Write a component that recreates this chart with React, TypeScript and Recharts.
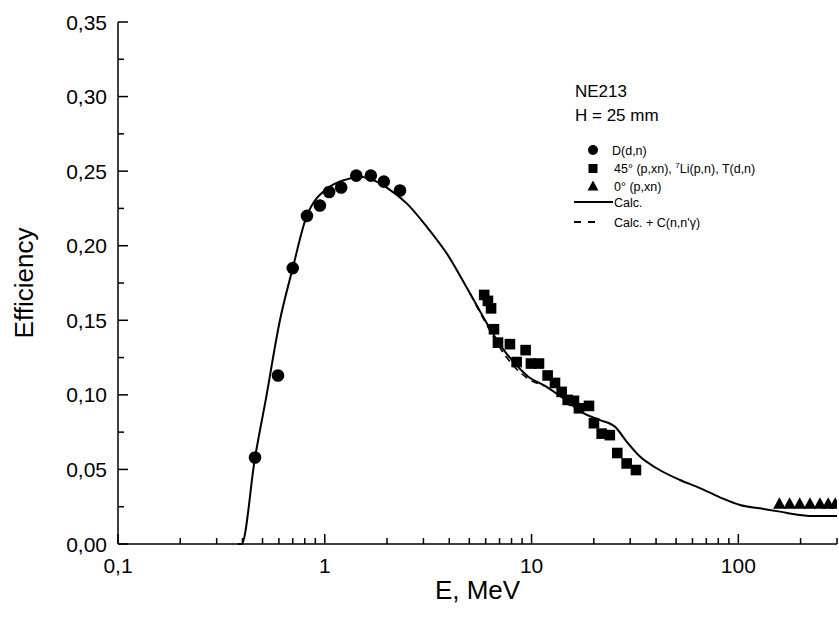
import React from 'react';
import {
  ComposedChart,
  Line,
  Scatter,
  XAxis,
  YAxis,
  Label,
} from 'recharts';

// NE213 detector efficiency vs neutron energy (log x axis)

const W = 839;
const H = 621;
const PLOT_LEFT = 118;
const PLOT_BOTTOM = 544;
const FONT = '"Liberation Sans", Arial, sans-serif';

// D(d,n) points
const ddE = [0.46, 0.594, 0.7, 0.82, 0.947, 1.05, 1.2, 1.42, 1.67, 1.93, 2.31];
const ddEff = [0.058, 0.113, 0.185, 0.22, 0.227, 0.236, 0.239, 0.247, 0.247, 0.243, 0.237];

// 45° (p,xn), 7Li(p,n), T(d,n)
const pxnE = [5.9, 6.15, 6.37, 6.58, 6.88, 7.86, 8.47, 9.36, 9.93, 10.86, 11.96, 12.98,
  13.98, 14.95, 16.03, 16.95, 18.95, 20.03, 21.83, 23.9, 25.97, 28.83, 31.97];
const pxnEff = [0.167, 0.163, 0.158, 0.144, 0.135, 0.134, 0.122, 0.13, 0.121, 0.121, 0.113, 0.108,
  0.102, 0.0966, 0.096, 0.091, 0.0926, 0.081, 0.074, 0.073, 0.061, 0.054, 0.0496];

// 0° (p,xn)
const zeroE = [158, 177, 198, 222, 248, 272, 294];
const zeroEff = [0.027, 0.027, 0.027, 0.027, 0.027, 0.027, 0.027];

// Calc.
const calcE = [0.38, 0.396, 0.46, 0.518, 0.607, 0.7, 0.816, 1.06, 1.276, 1.48, 1.716, 1.992,
  2.49, 3.11, 3.886, 5.04, 6.65, 7.44, 8.31, 9.64, 11.61, 14.23, 17.78, 21.42, 25.31, 28.84,
  33.43, 40.26, 52.2, 65.2, 81.5, 101.8, 127.2, 158.9, 198.6, 221.8, 300];
const calcEff = [0, 0, 0.058, 0.0966, 0.15, 0.185, 0.2195, 0.2396, 0.2445, 0.2463, 0.244, 0.239,
  0.2284, 0.2128, 0.1949, 0.168, 0.139, 0.129, 0.121, 0.1122, 0.106, 0.0977, 0.0877, 0.0831,
  0.0787, 0.0686, 0.0586, 0.0508, 0.0429, 0.0375, 0.0313, 0.0262, 0.0239, 0.0217, 0.0194,
  0.0188, 0.0188];

// Calc. + C(n,n'γ) — only visible apart from Calc. around 5-12 MeV
const calcCE = [5.04, 5.8, 6.6, 7.4, 8.3, 9.6, 11.6];
const calcCEff = [0.168, 0.152, 0.138, 0.127, 0.1185, 0.111, 0.106];

const xTicks = [0.1, 0.2, 0.3, 0.4, 0.5, 0.6, 0.7, 0.8, 0.9, 1, 2, 3, 4, 5, 6, 7, 8, 9, 10,
  20, 30, 40, 50, 60, 70, 80, 90, 100, 200, 300];
const xMajor = [0.1, 1, 10, 100];
const yTicks = [0, 0.025, 0.05, 0.075, 0.1, 0.125, 0.15, 0.175, 0.2, 0.225, 0.25, 0.275, 0.3, 0.325, 0.35];

const zip = (xs: number[], ys: number[]) => xs.map((x, i) => ({ x, y: ys[i] }));

const ddData = zip(ddE, ddEff);
const pxnData = zip(pxnE, pxnEff);
const zeroData = zip(zeroE, zeroEff);
const calcData = zip(calcE, calcEff);
const calcCData = zip(calcCE, calcCEff);

const fmtY = (v: number) => v.toFixed(2).replace('.', ',');
const fmtX = (v: number) => String(v).replace('.', ',');

const YTick = (props: any) => {
  const { y, payload } = props;
  const v = payload.value as number;
  const major = Math.round(v * 1000) % 50 === 0;
  return (
    <g>
      <line x1={PLOT_LEFT} x2={PLOT_LEFT + (major ? 10 : 6)} y1={y} y2={y} stroke="#000" strokeWidth={1.5} />
      {major && (
        <text x={PLOT_LEFT - 11} y={y} dy="0.36em" textAnchor="end" fontSize={21} fontFamily={FONT} fill="#000">
          {fmtY(v)}
        </text>
      )}
    </g>
  );
};

const XTick = (props: any) => {
  const { x, payload } = props;
  const v = payload.value as number;
  const major = xMajor.includes(v);
  return (
    <g>
      <line x1={x} x2={x} y1={PLOT_BOTTOM} y2={PLOT_BOTTOM - (major ? 10 : 6)} stroke="#000" strokeWidth={1.5} />
      {major && (
        <text x={x} y={PLOT_BOTTOM + 29} textAnchor="middle" fontSize={21} fontFamily={FONT} fill="#000">
          {fmtX(v)}
        </text>
      )}
    </g>
  );
};

const Dot = (p: any) => <circle cx={p.cx} cy={p.cy} r={6.3} fill="#000" />;
const Sq = (p: any) => <rect x={p.cx - 5.3} y={p.cy - 5.3} width={10.6} height={10.6} fill="#000" />;
const Tri = (p: any) => (
  <path d={`M${p.cx},${p.cy - 6.5} L${p.cx + 6.3},${p.cy + 5} L${p.cx - 6.3},${p.cy + 5} Z`} fill="#000" />
);

function LegendOverlay() {
  const t = { fontFamily: FONT, fill: '#000' };
  return (
    <svg width={W} height={H} style={{ position: 'absolute', left: 0, top: 0, pointerEvents: 'none' }}>
      <text x={575} y={97} fontSize={17} {...t}>NE213</text>
      <text x={575} y={121} fontSize={17} {...t}>H = 25 mm</text>
      <circle cx={593} cy={150} r={5} fill="#000" />
      <text x={612} y={154.5} fontSize={12.5} {...t}>D(d,n)</text>
      <rect x={588.5} y={164} width={9} height={9} fill="#000" />
      <text x={614} y={172.5} fontSize={12.5} {...t}>
        45° (p,xn), <tspan fontSize={8} dy={-5}>7</tspan><tspan dy={5}>Li(p,n), T(d,n)</tspan>
      </text>
      <path d="M593,180.5 L598.5,190.5 L587.5,190.5 Z" fill="#000" />
      <text x={614} y={190.5} fontSize={12.5} {...t}>0° (p,xn)</text>
      <line x1={574} x2={613} y1={202} y2={202} stroke="#000" strokeWidth={1.8} />
      <text x={614} y={206.5} fontSize={12.5} {...t}>Calc.</text>
      <line x1={574} x2={596} y1={222} y2={222} stroke="#000" strokeWidth={1.8} strokeDasharray="7 7" />
      <text x={614} y={226.5} fontSize={12.5} {...t}>Calc. + C(n,n'γ)</text>
    </svg>
  );
}

export default function App() {
  return (
    <div style={{ position: 'fixed', left: 0, top: 0, width: W, height: H, background: '#fff' }}>
      <ComposedChart width={W} height={H} margin={{ top: 22, right: 2, left: 0, bottom: 0 }}>
        <XAxis
          type="number"
          dataKey="x"
          scale="log"
          domain={[0.1, 300]}
          allowDataOverflow
          ticks={xTicks}
          interval={0}
          tick={<XTick />}
          tickLine={false}
          axisLine={{ stroke: '#000', strokeWidth: 1.5 }}
          height={77}
        >
          <Label
            value="E, MeV"
            position="insideBottom"
            offset={22}
            style={{ fontSize: 26, fontFamily: FONT, fill: '#000' }}
          />
        </XAxis>
        <YAxis
          type="number"
          dataKey="y"
          domain={[0, 0.35]}
          ticks={yTicks}
          interval={0}
          tick={<YTick />}
          tickLine={false}
          axisLine={{ stroke: '#000', strokeWidth: 1.5 }}
          width={118}
        >
          <Label
            value="Efficiency"
            angle={-90}
            position="insideLeft"
            offset={24}
            style={{ fontSize: 26, fontFamily: FONT, fill: '#000', textAnchor: 'middle' }}
          />
        </YAxis>
        <Line
          data={calcData}
          dataKey="y"
          type="monotone"
          stroke="#000"
          strokeWidth={2}
          dot={false}
          activeDot={false}
          isAnimationActive={false}
        />
        <Line
          data={calcCData}
          dataKey="y"
          type="monotone"
          stroke="#000"
          strokeWidth={1.6}
          strokeDasharray="7 5"
          dot={false}
          activeDot={false}
          isAnimationActive={false}
        />
        <Scatter data={ddData} dataKey="y" shape={Dot} isAnimationActive={false} />
        <Scatter data={pxnData} dataKey="y" shape={Sq} isAnimationActive={false} />
        <Scatter data={zeroData} dataKey="y" shape={Tri} isAnimationActive={false} />
      </ComposedChart>
      <LegendOverlay />
    </div>
  );
}
